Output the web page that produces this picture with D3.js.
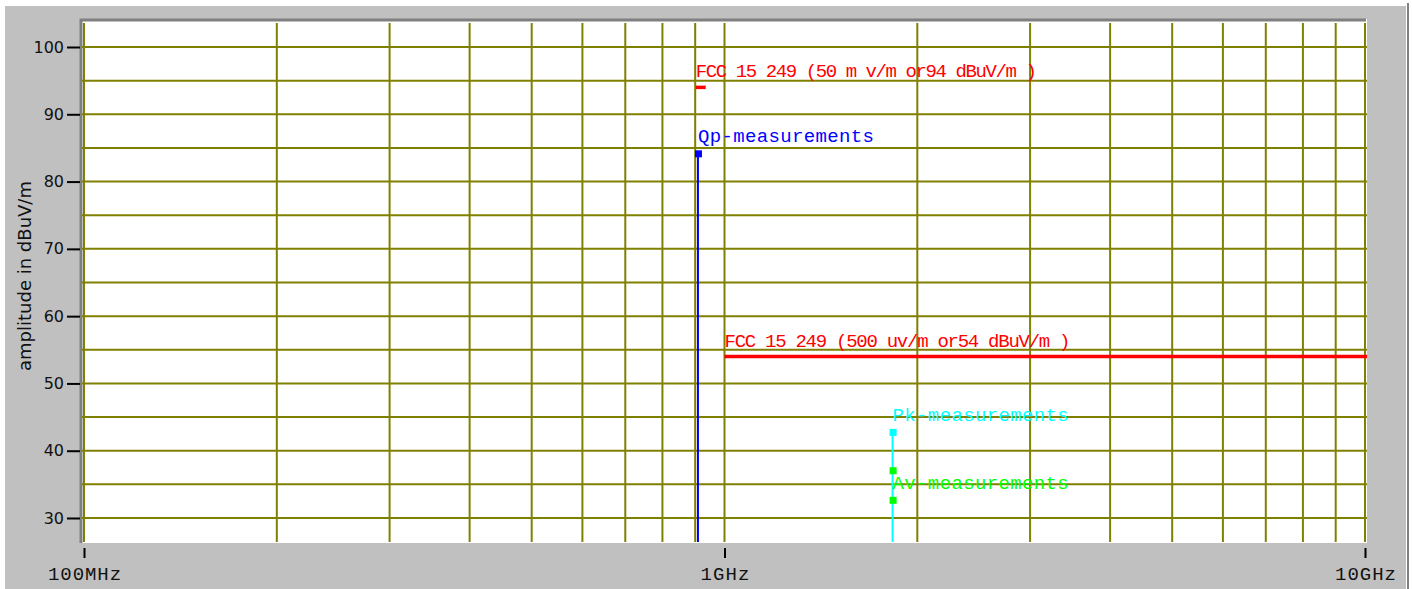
<!DOCTYPE html>
<meta charset="utf-8">
<style>
    body { margin: 0; background: white; }
    .grid line { stroke: #808000; stroke-width: 2px; }
    .mono { font-family: "Liberation Mono", monospace; font-size: 19px; }
</style>
<body>
<svg id="chart" width="1412" height="589"></svg>
<script src="https://d3js.org/d3.v7.min.js"></script>
<script>
// values (frequency in MHz, level in dBuV/m)
const limitText = ["FCC 15 249 (50 m v/m  or94 dBuV/m )", "FCC 15 249 (500 uv/m  or54 dBuV/m )"];
const limitStart = [902, 1000];
const limitEnd = [928, 10000];
const limitLevel = [94, 54];

const qpFreq = [909];
const qpLevel = [84.2];
const pkFreq = [1830];
const pkLevel = [42.8];
const avFreq = [1830, 1830];
const avLevel = [37.1, 32.7];

const yTicks = [30, 40, 50, 60, 70, 80, 90, 100];
const yGrid = [30, 35, 40, 45, 50, 55, 60, 65, 70, 75, 80, 85, 90, 95, 100];
const xTicks = [100, 1000, 10000];
const xTickLabels = ["100MHz", "1GHz", "10GHz"];

const svg = d3.select("#chart");

const x = d3.scaleLog().domain([100, 10000]).range([84, 1365]);
const y = d3.scaleLinear().domain([30, 100]).range([518, 47]);

// panel
svg.append("rect").attr("x", 5).attr("y", 6).attr("width", 1401).attr("height", 583).attr("fill", "#c0c0c0");
svg.append("line").attr("x1", 1408).attr("x2", 1408).attr("y1", 3).attr("y2", 589)
    .attr("stroke", "#808080").attr("stroke-width", 2);

// plot area with sunken border
svg.append("rect").attr("x", 80).attr("y", 19).attr("width", 1287).attr("height", 524).attr("fill", "white");
svg.append("path").attr("d", "M81,543V20H1366").attr("fill", "none").attr("stroke", "#808080").attr("stroke-width", 3);

const grid = svg.append("g").attr("class", "grid");
grid.selectAll("line.v")
    .data(x.ticks())
    .enter().append("line")
    .attr("class", "v")
    .attr("x1", d => x(d)).attr("x2", d => x(d))
    .attr("y1", 23).attr("y2", 542);
grid.selectAll("line.h")
    .data(yGrid)
    .enter().append("line")
    .attr("class", "h")
    .attr("x1", 82).attr("x2", 1367)
    .attr("y1", d => y(d)).attr("y2", d => y(d));

// y axis
const yAxis = d3.axisLeft(y).tickValues(yTicks).tickSize(13).tickSizeOuter(0).tickPadding(3);
const gy = svg.append("g").attr("transform", "translate(80,0)").call(yAxis);
gy.select(".domain").remove();
gy.selectAll(".tick line").attr("stroke", "black").attr("stroke-width", 2);
gy.selectAll(".tick text").attr("font-family", "DejaVu Sans").attr("font-size", 16).attr("fill", "#111");

svg.append("text")
    .attr("transform", "translate(31,276) rotate(-90)")
    .attr("text-anchor", "middle")
    .attr("font-family", "DejaVu Sans")
    .attr("font-size", 18)
    .attr("fill", "#111")
    .text("amplitude in dBuV/m");

// x axis
const xAxis = d3.axisBottom(x).tickValues(xTicks).tickFormat((d, i) => xTickLabels[i])
    .tickSize(10).tickSizeOuter(0).tickPadding(9);
const gx = svg.append("g").attr("transform", "translate(0,548)").call(xAxis);
gx.select(".domain").remove();
gx.selectAll(".tick line").attr("stroke", "black").attr("stroke-width", 2);
gx.selectAll(".tick text").attr("class", "mono").attr("fill", "#111")
    .attr("textLength", (d, i) => xTickLabels[i].length * 12.2).attr("lengthAdjust", "spacing");

// limit lines
limitLevel.forEach((lv, i) => {
    svg.append("line")
        .attr("x1", x(limitStart[i])).attr("x2", x(limitEnd[i]) + 2)
        .attr("y1", y(lv)).attr("y2", y(lv))
        .attr("stroke", "#ff0000").attr("stroke-width", 3.5);
    svg.append("text")
        .attr("class", "mono")
        .attr("x", x(limitStart[i]))
        .attr("y", y(lv) - 10)
        .attr("fill", "#ff0000")
        .attr("textLength", i === 0 ? 341 : 346).attr("lengthAdjust", "spacing")
        .text(limitText[i]);
});

function stems(freqs, levels, color, w) {
    freqs.forEach((f, i) => {
        svg.append("line")
            .attr("x1", x(f)).attr("x2", x(f))
            .attr("y1", y(levels[i])).attr("y2", 542)
            .attr("stroke", color).attr("stroke-width", w);
    });
}
function markers(freqs, levels, color) {
    svg.selectAll(null)
        .data(freqs)
        .enter().append("rect")
        .attr("x", d => x(d) - 3)
        .attr("y", (d, i) => y(levels[i]) - 3)
        .attr("width", 7).attr("height", 7)
        .attr("fill", color);
}
function label(f, lv, color, txt) {
    svg.append("text")
        .attr("class", "mono")
        .attr("x", x(f))
        .attr("y", y(lv) - 11)
        .attr("fill", color)
        .attr("textLength", 176).attr("lengthAdjust", "spacing")
        .text(txt);
}

stems(qpFreq, qpLevel, "#0000ff", 2);
markers(qpFreq, qpLevel, "#0000ff");
label(qpFreq[0], qpLevel[0], "#0000ff", "Qp-measurements");

stems(pkFreq, pkLevel, "#00ffff", 2);
markers(pkFreq, pkLevel, "#00ffff");
label(pkFreq[0], pkLevel[0], "#00ffff", "Pk-measurements");

markers(avFreq, avLevel, "#00ff00");
label(avFreq[1], avLevel[1], "#00ff00", "Av-measurements");
</script>
</body>
